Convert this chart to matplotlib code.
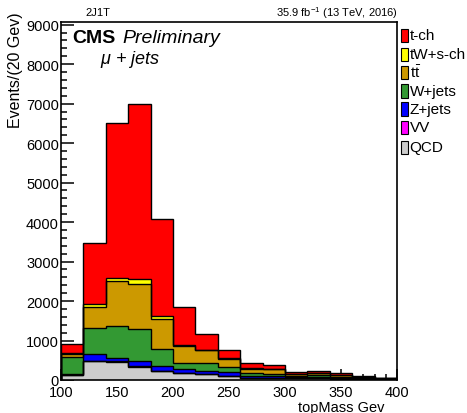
import numpy as np
import matplotlib
matplotlib.use("Agg")
import matplotlib.pyplot as plt
from matplotlib.patches import Rectangle
from matplotlib.ticker import MultipleLocator

plt.rcParams["font.family"] = ["Liberation Sans", "DejaVu Sans"]
plt.rcParams["mathtext.fontset"] = "custom"
plt.rcParams["mathtext.rm"] = "Liberation Sans"
plt.rcParams["mathtext.it"] = "Liberation Sans:italic"
plt.rcParams["mathtext.bf"] = "Liberation Sans:bold"

# 20 GeV bins of the reconstructed top mass
bin_edges = np.arange(100, 401, 20)

# Yields per bin, one list per process (stacked from QCD upwards)
qcd    = [120, 480, 465, 340, 230, 170, 140, 90, 60, 50, 40, 40, 30, 25, 15]
vv     = [3, 6, 6, 5, 4, 3, 2, 2, 1, 1, 1, 1, 1, 1, 1]
zjets  = [17, 171, 85, 127, 126, 117, 78, 101, 49, 44, 29, 39, 24, 19, 9]
wjets  = [430, 653, 820, 820, 424, 150, 220, 132, 60, 55, 30, 35, 30, 15, 10]
ttbar  = [100, 548, 1126, 1138, 762, 428, 310, 215, 120, 120, 50, 55, 35, 20, 10]
tw_sch = [10, 68, 93, 130, 68, 22, 20, 15, 10, 10, 8, 10, 8, 5, 3]
tch    = [230, 1549, 3917, 4440, 2452, 960, 400, 210, 127, 90, 57, 54, 42, 22, 14]

labels = ["QCD", "VV", "Z+jets", "W+jets", r"t$\bar{\mathrm{t}}$", "tW+s-ch", "t-ch"]
colors = ["#cccccc", "#ff00ff", "#0000ff", "#339933", "#cc9900", "#ffff00", "#ff0000"]
yields = [qcd, vv, zjets, wjets, ttbar, tw_sch, tch]

W, H = 467, 414
fig = plt.figure(figsize=(W / 100, H / 100), dpi=100)
ax = fig.add_axes([61 / W, 1 - 381 / H, (397 - 61) / W, (381 - 22.5) / H])

# Stack: draw the cumulative sums from the top down, each filled from zero
cumulative = np.cumsum(np.array(yields, dtype=float), axis=0)
for i in range(len(yields) - 1, -1, -1):
    ax.stairs(cumulative[i], bin_edges, baseline=0, fill=True,
              facecolor=colors[i], edgecolor="none", zorder=2)
    ax.stairs(cumulative[i], bin_edges, baseline=0, fill=False,
              edgecolor="black", linewidth=1.0, zorder=3)

ax.set_xlim(100, 400)
ax.set_ylim(0, 9080)
ax.xaxis.set_major_locator(MultipleLocator(50))
ax.xaxis.set_minor_locator(MultipleLocator(10))
ax.yaxis.set_major_locator(MultipleLocator(1000))
ax.yaxis.set_minor_locator(MultipleLocator(200))
ax.tick_params(which="both", direction="in", top=False, right=False,
               labelsize=10.5, width=1.1, zorder=5)
ax.tick_params(axis="y", which="major", length=9, pad=1.5)
ax.tick_params(axis="y", which="minor", length=4.5)
ax.tick_params(axis="x", which="major", length=8, pad=3.5)
ax.tick_params(axis="x", which="minor", length=4)
for side in ax.spines.values():
    side.set_linewidth(1.2)
    side.set_zorder(6)

# Axis titles aligned to the axis ends
fig.text(384 / W, 1 - 408 / H, "topMass Gev", ha="right", va="center", fontsize=10.5)
fig.text(16 / W, 1 - 12 / H, "Events/(20 Gev)", rotation=90, ha="center", va="top",
         fontsize=11.5)

# Header line
fig.text(85 / W, 1 - 13 / H, "2J1T", ha="left", va="center", fontsize=8)
fig.text(398 / W, 1 - 13 / H, r"35.9 fb$^{-1}$ (13 TeV, 2016)", ha="right",
         va="center", fontsize=8)

# Experiment label
fig.text(72 / W, 1 - 43 / H, "CMS", ha="left", va="baseline", fontsize=14,
         fontweight="bold")
fig.text(122 / W, 1 - 43 / H, "Preliminary", ha="left", va="baseline", fontsize=14,
         style="italic")
fig.text(100 / W, 1 - 64 / H, r"$\mu$ + jets", ha="left", va="baseline", fontsize=13,
         style="italic")

# Legend (top entry first)
legend_y = [36, 55, 73, 92, 110, 128, 148]
for k, i in enumerate(range(len(labels) - 1, -1, -1)):
    yc = legend_y[k]
    fig.patches.append(Rectangle((401 / W, 1 - (yc + 6.5) / H), 7 / W, 13 / H,
                                 transform=fig.transFigure, facecolor=colors[i],
                                 edgecolor="black", linewidth=0.8))
    fig.text(409.5 / W, 1 - yc / H, labels[i], ha="left", va="center", fontsize=11)

fig.savefig("out.png", dpi=100)
